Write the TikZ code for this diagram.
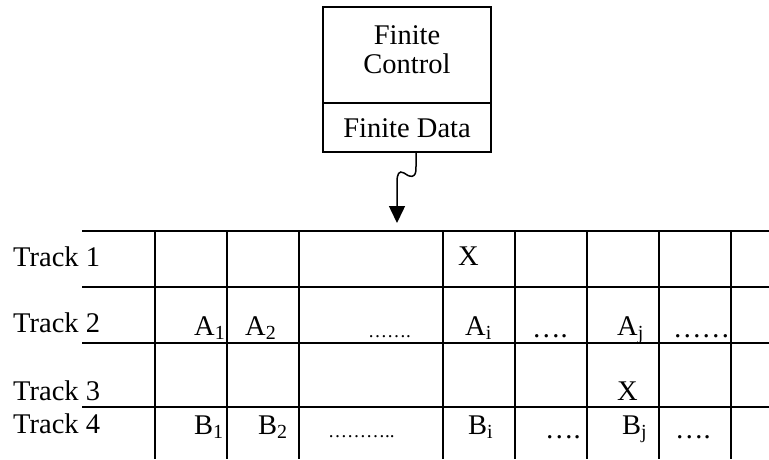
\documentclass[tikz,border=0pt]{standalone}
\usepackage{fontspec}
\setmainfont{Liberation Serif}
\usepackage{tikz}
\usetikzlibrary{arrows.meta}

\begin{document}
\begin{tikzpicture}[x=1pt, y=-1pt,
  lab/.style={anchor=base west, inner sep=0pt, font=\fontsize{28.5}{30}\selectfont},
  tinydots/.style={anchor=base west, inner sep=0pt, font=\fontsize{19}{22}\selectfont}]
  \useasboundingbox (0,0) rectangle (769,459);

 % finite control box
 \draw [line width=1.5pt] (323,7) rectangle (491,152);
 \draw [line width=1.5pt] (323,103) -- (491,103);
 \node [align=center, inner sep=0pt, font=\fontsize{28.5}{29}\selectfont] (ctrl) at (407,50) {Finite\\Control};
 \node [inner sep=0pt, font=\fontsize{28.5}{30}\selectfont] (data) at (407,128) {Finite Data};

 \coordinate (tap) at (416,152);
 \coordinate (head) at (397,223);
 \draw [arrows = {-Triangle[width=16pt, length=17pt]}, line width=1.5pt]
 (tap) -- (416,166) .. controls (417,180) and (409,177) .. (404,173)
 .. controls (399,170) and (397,174) .. (397,182) -- (head);

 % tape
 \draw [line width=1.6pt] (82,231) -- (769,231);
 \draw [line width=1.6pt] (82,287) -- (769,287);
 \draw [line width=1.6pt] (82,343) -- (769,343);
 \draw [line width=1.6pt] (82,407) -- (769,407);

 \draw [line width=1.8pt] (155,232) -- (155,459);
 \draw [line width=1.8pt] (227,232) -- (227,459);
 \draw [line width=1.8pt] (299,232) -- (299,459);
 \draw [line width=1.8pt] (443,232) -- (443,459);
 \draw [line width=1.8pt] (515,232) -- (515,459);
 \draw [line width=1.8pt] (587,232) -- (587,459);
 \draw [line width=1.8pt] (659,232) -- (659,459);
 \draw [line width=1.8pt] (731,232) -- (731,459);

 \node [lab] (t1) at (13,266) {Track 1};
 \node [lab] (t2) at (13,332) {Track 2};
 \node [lab] (t3) at (13,400) {Track 3};
 \node [lab] (t4) at (13,433) {Track 4};

 % track 1
 \node [lab] (x1) at (458,265) {X};
 % track 2
 \node [lab] (a1) at (194,335) {A\textsubscript{1}};
 \node [lab] (a2) at (245,335) {A\textsubscript{2}};
 \node [tinydots] (adots) at (368,337) {…….};
 \node [lab] (ai) at (465,335) {A\textsubscript{i}};
 \node [lab] (adotsi) at (532,337) {….};
 \node [lab] (aj) at (617,335) {A\textsubscript{j}};
 \node [lab] (adotsj) at (673,337) {……};
 % track 3
 \node [lab] (x3) at (617,400) {X};
 % track 4
 \node [lab] (b1) at (194,434) {B\textsubscript{1}};
 \node [lab] (b2) at (258,434) {B\textsubscript{2}};
 \node [tinydots] (bdots) at (328,437) {………..};
 \node [lab] (bi) at (468,434) {B\textsubscript{i}};
 \node [lab] (bdotsi) at (545,438) {….};
 \node [lab] (bj) at (622,434) {B\textsubscript{j}};
 \node [lab] (bdotsj) at (675,438) {….};

\end{tikzpicture}
\end{document}
